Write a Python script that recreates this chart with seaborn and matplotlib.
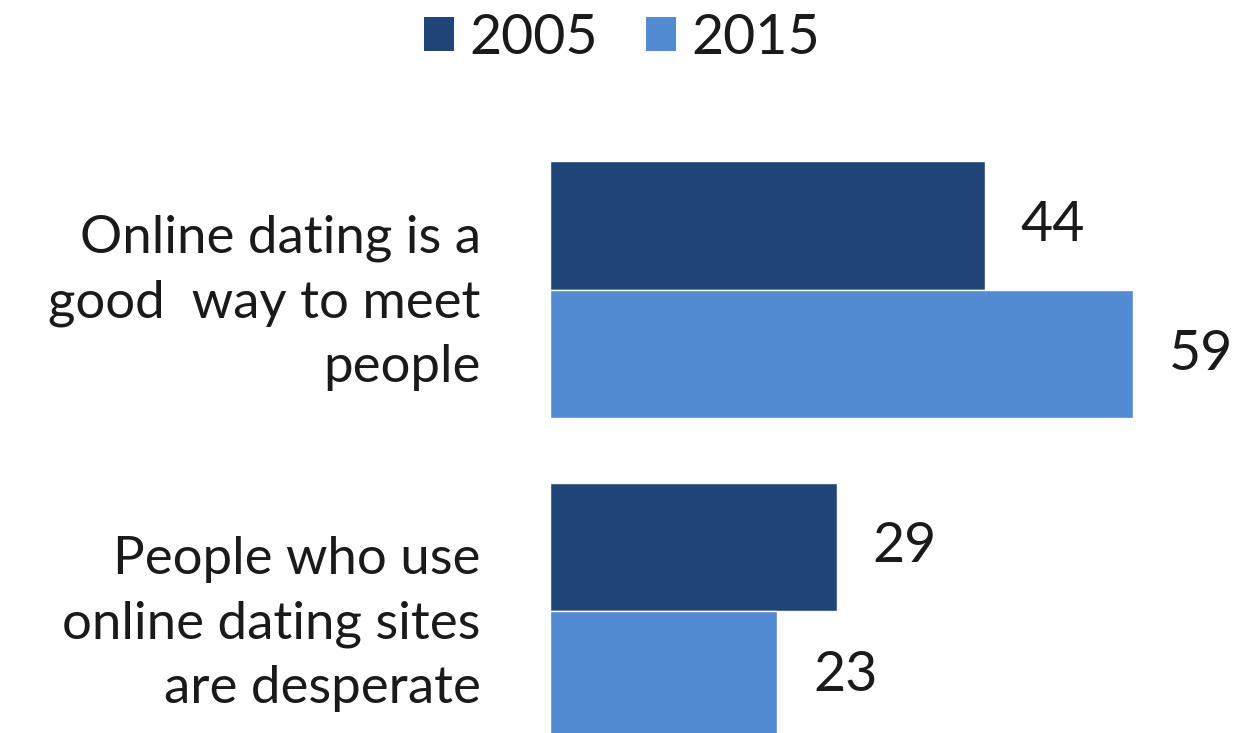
import matplotlib
matplotlib.use("Agg")
import matplotlib.pyplot as plt
import seaborn as sns
import pandas as pd
from matplotlib.patches import Patch

categories = ["Online dating is a\ngood  way to meet\npeople",
              "People who use\nonline dating sites\nare desperate"]
years = ["2005", "2015"]
values_2005 = [44, 29]
values_2015 = [59, 23]
colors = ["#1F4677", "#538BD3"]

rows = []
for c, v5, v15 in zip(categories, values_2005, values_2015):
    rows.append({"cat": c, "year": years[0], "val": v5})
    rows.append({"cat": c, "year": years[1], "val": v15})
df = pd.DataFrame(rows)

sns.set_theme(style="white")
plt.rcParams['font.family'] = ['Lato', 'DejaVu Sans']

W, H = 1253, 733
fig = plt.figure(figsize=(W / 100, H / 100), dpi=100)
xmax = 70.0
ppu = 9.88
ax = fig.add_axes([550 / W, 0, xmax * ppu / W, 1])

sns.barplot(data=df, y="cat", x="val", hue="year", palette=colors,
            orient="h", ax=ax, width=0.8, legend=False, saturation=1)

ax.set_xlim(0, xmax)
ax.set_ylim(1.380, -0.903)
for s in ax.spines.values():
    s.set_visible(False)
ax.set_xticks([])
ax.set_xlabel("")
ax.set_ylabel("")
ax.tick_params(axis="y", length=0, pad=50, labelsize=38, labelcolor="#1a1a1a")
for lbl in ax.get_yticklabels():
    lbl.set_horizontalalignment("right")
    lbl.set_multialignment("right")
    lbl.set_linespacing(1.45)

for cont in ax.containers:
    ax.bar_label(cont, padding=26, fontsize=40, color="#1a1a1a")

handles = [Patch(facecolor=c, edgecolor="none") for c in colors]
fig.legend(handles, years, loc="center", bbox_to_anchor=(622 / W, 1 - 38 / H),
           ncol=2, frameon=False, fontsize=40, handlelength=0.55,
           handleheight=0.55, handletextpad=0.28, columnspacing=0.85,
           labelcolor="#1a1a1a")

fig.savefig("out.png", dpi=100)
